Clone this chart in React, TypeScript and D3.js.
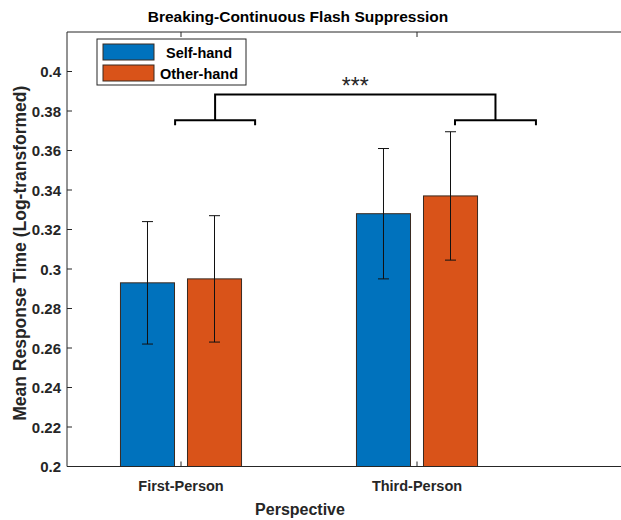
import { useEffect } from 'react'
import { scaleLinear } from 'd3'

const categories = ['First-Person', 'Third-Person']
const seriesNames = ['Self-hand', 'Other-hand']
const seriesColors = ['#0072BD', '#D95319']
const selfHand = [0.293, 0.328]
const otherHand = [0.295, 0.337]
const selfErr = [0.031, 0.033]
const otherErr = [0.032, 0.0325]
const yTicks = [0.2, 0.22, 0.24, 0.26, 0.28, 0.3, 0.32, 0.34, 0.36, 0.38, 0.4]
const yTickLabels = ['0.2', '0.22', '0.24', '0.26', '0.28', '0.3', '0.32', '0.34', '0.36', '0.38', '0.4']
// significance brackets: [left, right] in category units, y in data units
const groupBrackets = [
  [0.975, 1.314],
  [2.161, 2.504],
]
const groupBracketY = 0.3753
const topBracketY = 0.3884
const starsLabel = '***'

export default function App() {
  useEffect(() => {
    document.body.style.margin = '0'
  }, [])

  const width = 621
  const height = 520
  const font = '"Liberation Sans", Arial, sans-serif'

  const x = scaleLinear().domain([1, 2]).range([181, 417])
  const y = scaleLinear().domain([0.2, 0.42]).range([466.5, 32])
  const left = 67
  const right = 640
  const top = y(0.42)
  const bottom = y(0.2)

  const offset = 0.142
  const barW = x(1.229) - x(1)
  const series = [selfHand, otherHand]
  const errs = [selfErr, otherErr]
  const cap = 5.5

  const bracketCenters = groupBrackets.map((b) => (b[0] + b[1]) / 2)

  return (
    <svg width={width} height={height} style={{ display: 'block' }} fontFamily={font}>
      <rect width={width} height={height} fill="#fff" />
      <text x={298} y={22} textAnchor="middle" fontSize={15.5} fontWeight="bold" fill="#000">
        Breaking-Continuous Flash Suppression
      </text>

      {series.map((vals, s) =>
        vals.map((v, i) => {
          const cx = x(i + 1) + (s === 0 ? -offset : offset) * (x(2) - x(1))
          return (
            <rect
              key={`b-${s}-${i}`}
              x={cx - barW / 2}
              y={y(v)}
              width={barW}
              height={bottom - y(v)}
              fill={seriesColors[s]}
              stroke="#3a2a20"
              strokeWidth={1}
            />
          )
        }),
      )}
      {series.map((vals, s) =>
        vals.map((v, i) => {
          const cx = x(i + 1) + (s === 0 ? -offset : offset) * (x(2) - x(1))
          const e = errs[s][i]
          return (
            <g key={`e-${s}-${i}`} stroke="#111" strokeWidth={1}>
              <line x1={cx} x2={cx} y1={y(v + e)} y2={y(v - e)} />
              <line x1={cx - cap} x2={cx + cap} y1={y(v + e)} y2={y(v + e)} />
              <line x1={cx - cap} x2={cx + cap} y1={y(v - e)} y2={y(v - e)} />
            </g>
          )
        }),
      )}

      {/* axes */}
      <g stroke="#262626" strokeWidth={1} fill="none">
        <line x1={left} x2={right} y1={top} y2={top} />
        <line x1={left} x2={right} y1={bottom} y2={bottom} />
        <line x1={left} x2={left} y1={top} y2={bottom} />
        {yTicks.map((t) => (
          <line key={`yt-${t}`} x1={left} x2={left + 5} y1={y(t)} y2={y(t)} />
        ))}
        {categories.map((c, i) => (
          <g key={`xt-${c}`}>
            <line x1={x(i + 1)} x2={x(i + 1)} y1={bottom} y2={bottom - 5} />
            <line x1={x(i + 1)} x2={x(i + 1)} y1={top} y2={top + 5} />
          </g>
        ))}
      </g>
      {yTicks.map((t, i) => (
        <text
          key={`yl-${t}`}
          x={left - 6}
          y={y(t) + 5.5}
          textAnchor="end"
          fontSize={15}
          fontWeight="bold"
          fill="#262626"
        >
          {yTickLabels[i]}
        </text>
      ))}
      {categories.map((c, i) => (
        <text key={`xl-${c}`} x={x(i + 1)} y={491} textAnchor="middle" fontSize={14.5} fontWeight="bold" fill="#262626">
          {c}
        </text>
      ))}
      <text x={300} y={515} textAnchor="middle" fontSize={16} fontWeight="bold" fill="#262626">
        Perspective
      </text>
      <text
        transform={`translate(26,${(top + bottom) / 2 + 4}) rotate(-90)`}
        textAnchor="middle"
        fontSize={17.5}
        fontWeight="bold"
        fill="#262626"
      >
        Mean Response Time (Log-transformed)
      </text>

      {/* significance brackets */}
      <g stroke="#000" strokeWidth={2} fill="none">
        {groupBrackets.map((b, i) => (
          <path
            key={`gb-${i}`}
            d={`M${x(b[0])},${y(groupBracketY) + 5}V${y(groupBracketY)}H${x(b[1])}V${y(groupBracketY) + 5}`}
          />
        ))}
        <path
          d={`M${x(bracketCenters[0])},${y(groupBracketY)}V${y(topBracketY)}H${x(bracketCenters[1])}V${y(groupBracketY)}`}
        />
      </g>
      <text
        x={x((bracketCenters[0] + bracketCenters[1]) / 2)}
        y={94}
        textAnchor="middle"
        fontSize={23}
        fill="#262626"
      >
        {starsLabel}
      </text>

      {/* legend */}
      <rect x={97} y={39} width={149} height={46} fill="#fff" stroke="#262626" strokeWidth={1} />
      {seriesNames.map((n, i) => (
        <g key={`lg-${n}`}>
          <rect x={103} y={44 + i * 21} width={51} height={16} fill={seriesColors[i]} stroke="#3a2a20" strokeWidth={1} />
          <text x={199} y={58 + i * 21} textAnchor="middle" fontSize={14.5} fontWeight="bold" fill="#000">
            {n}
          </text>
        </g>
      ))}
    </svg>
  )
}
